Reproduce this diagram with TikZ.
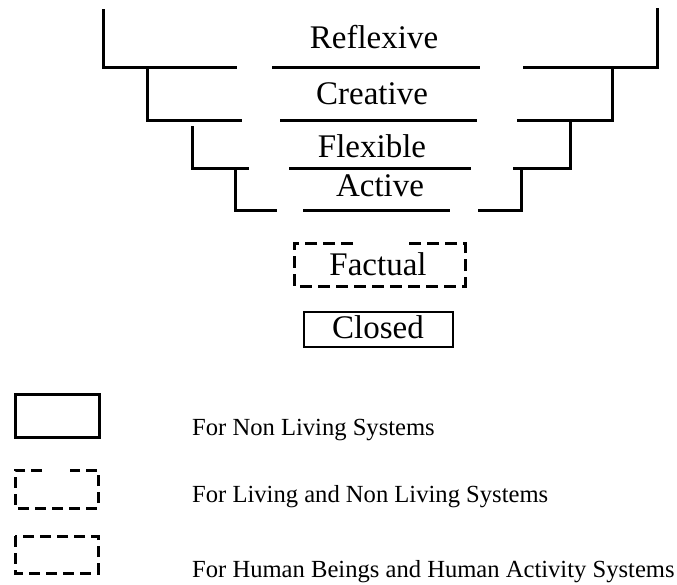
\documentclass[tikz,border=0pt]{standalone}
\usepackage{fontspec}
\setmainfont{Liberation Serif}
\begin{document}
\begin{tikzpicture}[x=1pt,y=-1pt,
  bar/.style={line width=3pt,line cap=butt,line join=miter},
  dashbox/.style={line width=3pt,dash pattern=on 12pt off 6pt},
  ldashbox/.style={line width=3pt,dash pattern=on 11pt off 6pt},
  solidbox/.style={line width=2.6pt},
  lvl/.style={anchor=base,inner sep=0pt,font=\fontsize{33}{38}\selectfont},
  leg/.style={anchor=base west,inner sep=0pt,font=\fontsize{24.6}{28}\selectfont}]
\useasboundingbox (0,0) rectangle (677,584);
% Reflexive
\draw[bar] (103,9) -- (103,67) -- (237,67);
\draw[bar] (272,67) -- (480,67);
\draw[bar] (523,67) -- (657,67) -- (657,8);
\node[lvl] (reflexive) at (374,48) {Reflexive};
% Creative
\draw[bar] (147,67) -- (147,120) -- (242,120);
\draw[bar] (280,120) -- (477,120);
\draw[bar] (517,120) -- (612,120) -- (612,67);
\node[lvl] (creative) at (372,104) {Creative};
% Flexible
\draw[bar] (192,126) -- (192,168) -- (249,168);
\draw[bar] (289,168) -- (471,168);
\draw[bar] (513,168) -- (570,168) -- (570,120);
\node[lvl] (flexible) at (372,157) {Flexible};
% Active
\draw[bar] (235,170) -- (235,210) -- (277,210);
\draw[bar] (303,210) -- (450,210);
\draw[bar] (478,210) -- (521,210) -- (521,167);
\node[lvl] (active) at (380,196) {Active};
% Factual
\draw[dashbox] (353,243) -- (294,243) -- (294,286) -- (465,286) -- (465,243) -- (407,243);
\node[lvl] (factual) at (378,275) {Factual};
% Closed
\draw[solidbox] (304,312) rectangle (453,347);
\node[lvl] (closed) at (378,338) {Closed};
% Legend
\draw[line width=3pt] (15,394) rectangle (99,437);
\node[leg] (l1) at (192,435) {For Non Living Systems};
\draw[ldashbox] (42,470) -- (15,470) -- (15,508) -- (98,508) -- (98,470) -- (70,470);
\node[leg] (l2) at (192,502) {For Living and Non Living Systems};
\draw[ldashbox] (15,536) rectangle (98,573);
\node[leg] (l3) at (192,577) {For Human Beings and Human Activity Systems};
\end{tikzpicture}
\end{document}
